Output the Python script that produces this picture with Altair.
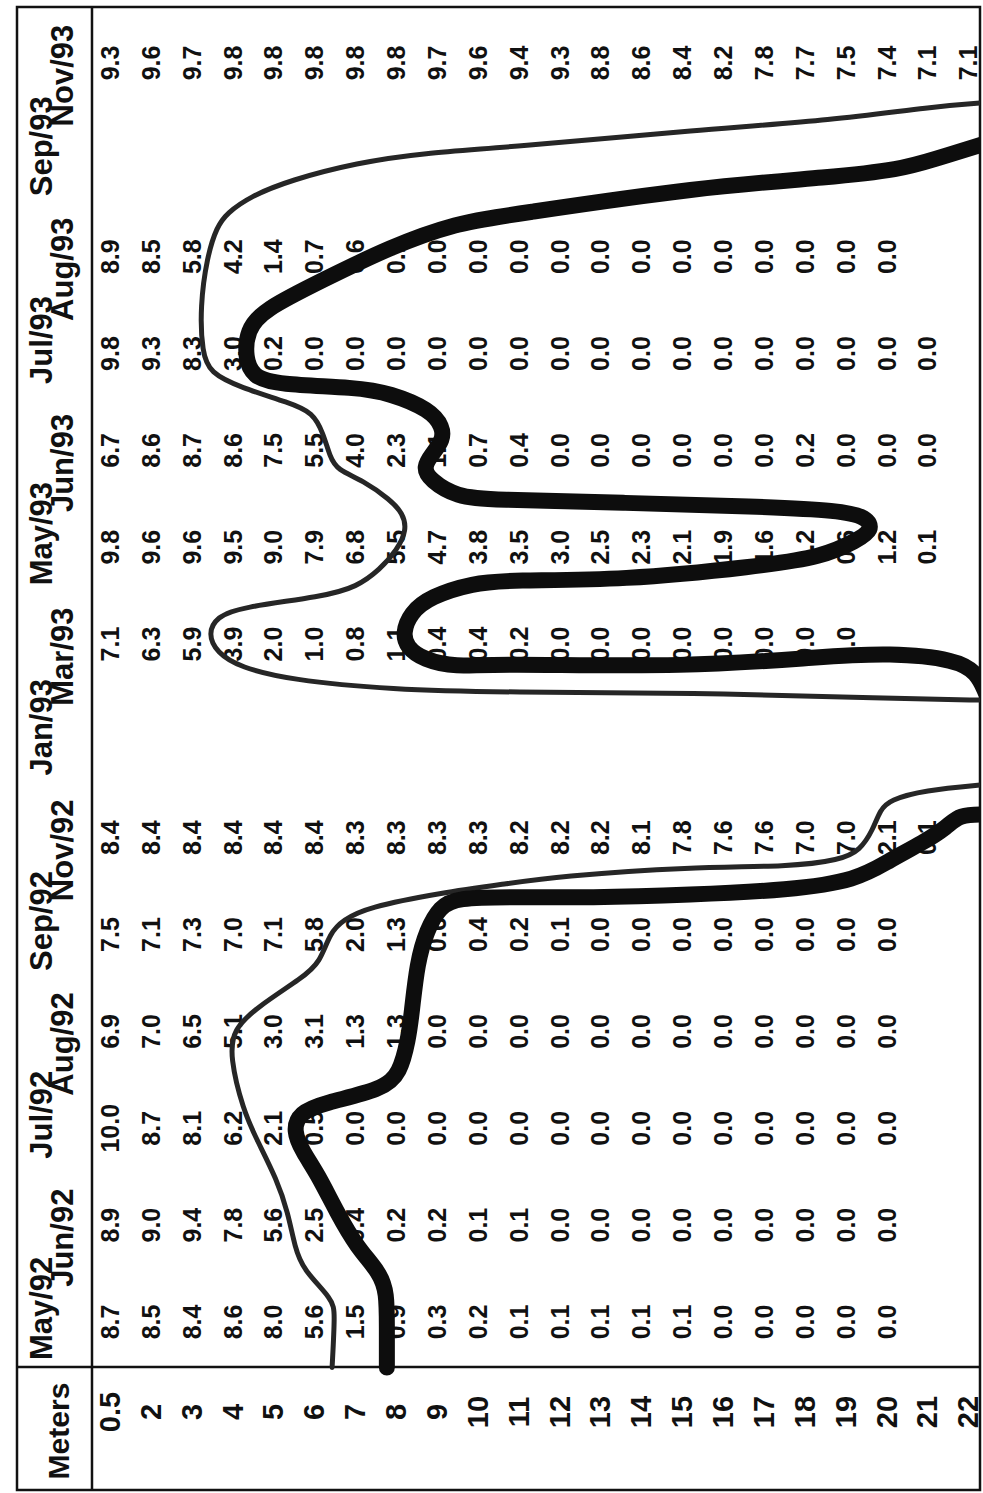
import altair as alt
import pandas as pd

# ---------------- data ----------------
depths = ["0.5", "2", "3", "4", "5", "6", "7", "8", "9", "10", "11",
          "12", "13", "14", "15", "16", "17", "18", "19", "20", "21", "22"]

# time slots (header labels), Jan/93 and Sep/93 have no samples
dates = ["May/92", "Jun/92", "Jul/92", "Aug/92", "Sep/92", "Nov/92", "Jan/93",
         "Mar/93", "May/93", "Jun/93", "Jul/93", "Aug/93", "Sep/93", "Nov/93"]

may92 = ["8.7", "8.5", "8.4", "8.6", "8.0", "5.6", "1.5", "0.9", "0.3", "0.2", "0.1",
         "0.1", "0.1", "0.1", "0.1", "0.0", "0.0", "0.0", "0.0", "0.0"]
jun92 = ["8.9", "9.0", "9.4", "7.8", "5.6", "2.5", "0.4", "0.2", "0.2", "0.1", "0.1",
         "0.0", "0.0", "0.0", "0.0", "0.0", "0.0", "0.0", "0.0", "0.0"]
jul92 = ["10.0", "8.7", "8.1", "6.2", "2.1", "0.5", "0.0", "0.0", "0.0", "0.0", "0.0",
         "0.0", "0.0", "0.0", "0.0", "0.0", "0.0", "0.0", "0.0", "0.0"]
aug92 = ["6.9", "7.0", "6.5", "5.1", "3.0", "3.1", "1.3", "1.3", "0.0", "0.0", "0.0",
         "0.0", "0.0", "0.0", "0.0", "0.0", "0.0", "0.0", "0.0", "0.0"]
sep92 = ["7.5", "7.1", "7.3", "7.0", "7.1", "5.8", "2.0", "1.3", "0.6", "0.4", "0.2",
         "0.1", "0.0", "0.0", "0.0", "0.0", "0.0", "0.0", "0.0", "0.0"]
nov92 = ["8.4", "8.4", "8.4", "8.4", "8.4", "8.4", "8.3", "8.3", "8.3", "8.3", "8.2",
         "8.2", "8.2", "8.1", "7.8", "7.6", "7.6", "7.0", "7.0", "2.1", "0.1"]
mar93 = ["7.1", "6.3", "5.9", "3.9", "2.0", "1.0", "0.8", "1.1", "0.4", "0.4", "0.2",
         "0.0", "0.0", "0.0", "0.0", "0.0", "0.0", "0.0", "0.0"]
may93 = ["9.8", "9.6", "9.6", "9.5", "9.0", "7.9", "6.8", "5.5", "4.7", "3.8", "3.5",
         "3.0", "2.5", "2.3", "2.1", "1.9", "1.6", "1.2", "0.6", "1.2", "0.1"]
jun93 = ["6.7", "8.6", "8.7", "8.6", "7.5", "5.5", "4.0", "2.3", "1.1", "0.7", "0.4",
         "0.0", "0.0", "0.0", "0.0", "0.0", "0.0", "0.2", "0.0", "0.0", "0.0"]
jul93 = ["9.8", "9.3", "8.3", "3.0", "0.2", "0.0", "0.0", "0.0", "0.0", "0.0", "0.0",
         "0.0", "0.0", "0.0", "0.0", "0.0", "0.0", "0.0", "0.0", "0.0", "0.0"]
aug93 = ["8.9", "8.5", "5.8", "4.2", "1.4", "0.7", "0.6", "0.1", "0.0", "0.0", "0.0",
         "0.0", "0.0", "0.0", "0.0", "0.0", "0.0", "0.0", "0.0", "0.0"]
nov93 = ["9.3", "9.6", "9.7", "9.8", "9.8", "9.8", "9.8", "9.8", "9.7", "9.6", "9.4",
         "9.3", "8.8", "8.6", "8.4", "8.2", "7.8", "7.7", "7.5", "7.4", "7.1", "7.1"]

samples = {"May/92": may92, "Jun/92": jun92, "Jul/92": jul92, "Aug/92": aug92,
           "Sep/92": sep92, "Nov/92": nov92, "Mar/93": mar93, "May/93": may93,
           "Jun/93": jun93, "Jul/93": jul93, "Aug/93": aug93, "Nov/93": nov93}

# isopleth traces: depth index (0 = 0.5 m) and time slot
thin_a_d = [5.41, 5.48, 5.43, 4.70, 4.50, 4.33, 4.06, 3.57, 3.23, 2.91, 2.99, 3.57, 4.70,
            5.11, 5.36, 5.68, 6.26, 8.05, 9.76, 10.91, 14.17, 16.61, 17.84, 18.33, 18.64,
            18.82, 19.06, 19.87, 21.40]
thin_a_s = [-0.47, 0.09, 0.23, 0.54, 0.77, 1.13, 1.47, 1.88, 2.19, 2.74, 3.02, 3.25, 3.56,
            3.71, 4.02, 4.15, 4.28, 4.43, 4.53, 4.60, 4.70, 4.70, 4.77, 4.87, 5.08,
            5.29, 5.39, 5.49, 5.55]
thick_a_d = [6.75, 6.75, 6.75, 6.58, 6.02, 5.53, 5.04, 4.70, 4.45, 4.62, 5.19, 6.66, 7.07,
             7.27, 7.36, 7.49, 7.73, 8.05, 8.47, 9.76, 11.72, 14.17, 16.61, 18.25, 19.06,
             19.87, 20.46, 20.75, 21.40]
thick_a_s = [-0.47, -0.05, 0.30, 0.51, 0.77, 1.13, 1.54, 1.75, 1.98, 2.16, 2.26, 2.40, 2.57,
             2.91, 3.19, 3.71, 4.05, 4.29, 4.38, 4.39, 4.38, 4.41, 4.46, 4.56, 4.77,
             4.95, 5.11, 5.24, 5.24]
thin_b_d = [21.40, 19.06, 14.17, 9.76, 6.83, 4.38, 3.16, 2.59, 2.37, 2.59, 3.16, 5.19, 6.02,
            6.58, 7.00, 7.24, 7.14, 6.83, 6.17, 5.53, 5.36, 5.19, 4.94, 4.38, 3.16, 2.42,
            2.23, 2.18, 2.35, 2.59, 2.84, 3.40, 4.38, 6.02, 7.63, 9.76, 14.41, 17.67, 20.11,
            21.40]
thin_b_s = [6.42, 6.44, 6.50, 6.50, 6.53, 6.63, 6.76, 6.91, 7.11, 7.28, 7.38, 7.49, 7.59,
            7.77, 7.97, 8.18, 8.35, 8.49, 8.69, 8.80, 8.93, 9.18, 9.39, 9.49, 9.65, 9.80,
            10.01, 10.48, 11.00, 11.31, 11.45, 11.62, 11.79, 11.97, 12.07, 12.13, 12.31,
            12.41, 12.55, 12.59]
thick_b_d = [21.40, 21.19, 20.70, 19.06, 17.42, 14.17, 9.27, 8.47, 7.63, 7.24, 7.14, 7.32,
             7.81, 8.86, 9.76, 12.53, 15.81, 17.42, 18.25, 18.64, 18.50, 17.84, 15.81,
             12.53, 9.27, 8.47, 7.81, 7.63, 7.88, 8.12, 8.12, 7.81, 6.83, 6.02, 4.06, 3.47,
             3.28, 3.33, 3.72, 5.19, 6.83, 8.47, 9.76, 14.41, 17.67, 19.31, 20.11, 21.40]
thick_b_s = [6.50, 6.70, 6.84, 6.91, 6.87, 6.76, 6.80, 6.76, 6.84, 6.97, 7.11, 7.32, 7.49,
             7.63, 7.66, 7.66, 7.80, 7.90, 8.07, 8.18, 8.31, 8.38, 8.42, 8.46, 8.49, 8.52,
             8.69, 8.83, 8.97, 9.11, 9.24, 9.42, 9.59, 9.65, 9.68, 9.76, 9.96, 10.24, 10.45,
             10.76, 11.10, 11.35, 11.43, 11.72, 11.82, 11.90, 12.00, 12.17]

# ---------------- tables ----------------
slot = {d: i for i, d in enumerate(dates)}

cells = pd.DataFrame([
    {"d": i, "s": slot[dt], "txt": v}
    for dt, vals in samples.items() for i, v in enumerate(vals)
])

depth_df = pd.DataFrame({"d": list(range(len(depths))), "txt": depths, "s": -0.93})

# header labels in pairs: first of pair on line 1, second on line 2
hdr_rows = []
for k in range(0, len(dates), 2):
    mid = (k + k + 1) / 2
    hdr_rows.append({"txt": dates[k], "s": mid - 0.36, "line": 1})
    hdr_rows.append({"txt": dates[k + 1], "s": mid + 0.37, "line": 2})
hdr = pd.DataFrame(hdr_rows)
hdr["d"] = hdr["line"].map({1: -1.44, 2: -0.92})

lines = []
for name, dd, ss in [("thin_a", thin_a_d, thin_a_s), ("thick_a", thick_a_d, thick_a_s),
                     ("thin_b", thin_b_d, thin_b_s), ("thick_b", thick_b_d, thick_b_s)]:
    for i, (a, b) in enumerate(zip(dd, ss)):
        lines.append({"id": name, "i": i, "d": a, "s": b,
                      "kind": "thick" if name.startswith("thick") else "thin"})
lines = pd.DataFrame(lines)

# ---------------- chart ----------------
X = alt.X("d:Q", scale=alt.Scale(domain=[-2.30, 21.263], nice=False, zero=False), axis=None)
Y = alt.Y("s:Q", scale=alt.Scale(domain=[-1.735, 13.578], nice=False, zero=False), axis=None)
FONT = "Liberation Sans"

values = alt.Chart(cells).mark_text(
    angle=270, align="center", baseline="middle", font=FONT, fontSize=25,
    fontWeight="bold", color="#111"
).encode(x=X, y=Y, text="txt:N")

depth_lbl = alt.Chart(depth_df).mark_text(
    angle=270, align="center", baseline="middle", font=FONT, fontSize=29,
    fontWeight="bold", color="#111"
).encode(x=X, y=Y, text="txt:N")

hdr_lbl = alt.Chart(hdr).mark_text(
    angle=270, align="center", baseline="alphabetic", font=FONT, fontSize=31,
    fontWeight="bold", color="#111"
).encode(x=X, y=Y, text="txt:N")

meters = alt.Chart(pd.DataFrame({"d": [-1.25], "s": [-1.126], "txt": ["Meters"]})).mark_text(
    angle=270, align="center", baseline="middle", font=FONT, fontSize=30,
    fontWeight="bold", color="#111"
).encode(x=X, y=Y, text="txt:N")

vdiv = alt.Chart(pd.DataFrame({"d": [-0.465]})).mark_rule(
    color="#111", strokeWidth=2.5).encode(x=X)
hdiv = alt.Chart(pd.DataFrame({"s": [-0.465]})).mark_rule(
    color="#111", strokeWidth=2.5).encode(y=Y)

thin = alt.Chart(lines[lines.kind == "thin"]).mark_line(
    color="#262626", strokeWidth=5, interpolate="basis", strokeCap="round",
    strokeJoin="round", clip=True
).encode(x=X, y=Y, detail="id:N", order="i:Q")

thick = alt.Chart(lines[lines.kind == "thick"]).mark_line(
    color="#0d0d0d", strokeWidth=16, interpolate="basis", strokeCap="round",
    strokeJoin="round", clip=True
).encode(x=X, y=Y, detail="id:N", order="i:Q")

chart = alt.layer(
    values, depth_lbl, hdr_lbl, meters, vdiv, hdiv, thin, thick
).properties(
    width=963, height=1483,
    padding={"left": 17, "top": 7, "right": 3, "bottom": 3},
    autosize=alt.AutoSizeParams(type="none"),
    background="white",
).configure_view(stroke="#111", strokeWidth=2.5)

chart.save("out.html", embed_options={"renderer": "svg", "actions": False})
